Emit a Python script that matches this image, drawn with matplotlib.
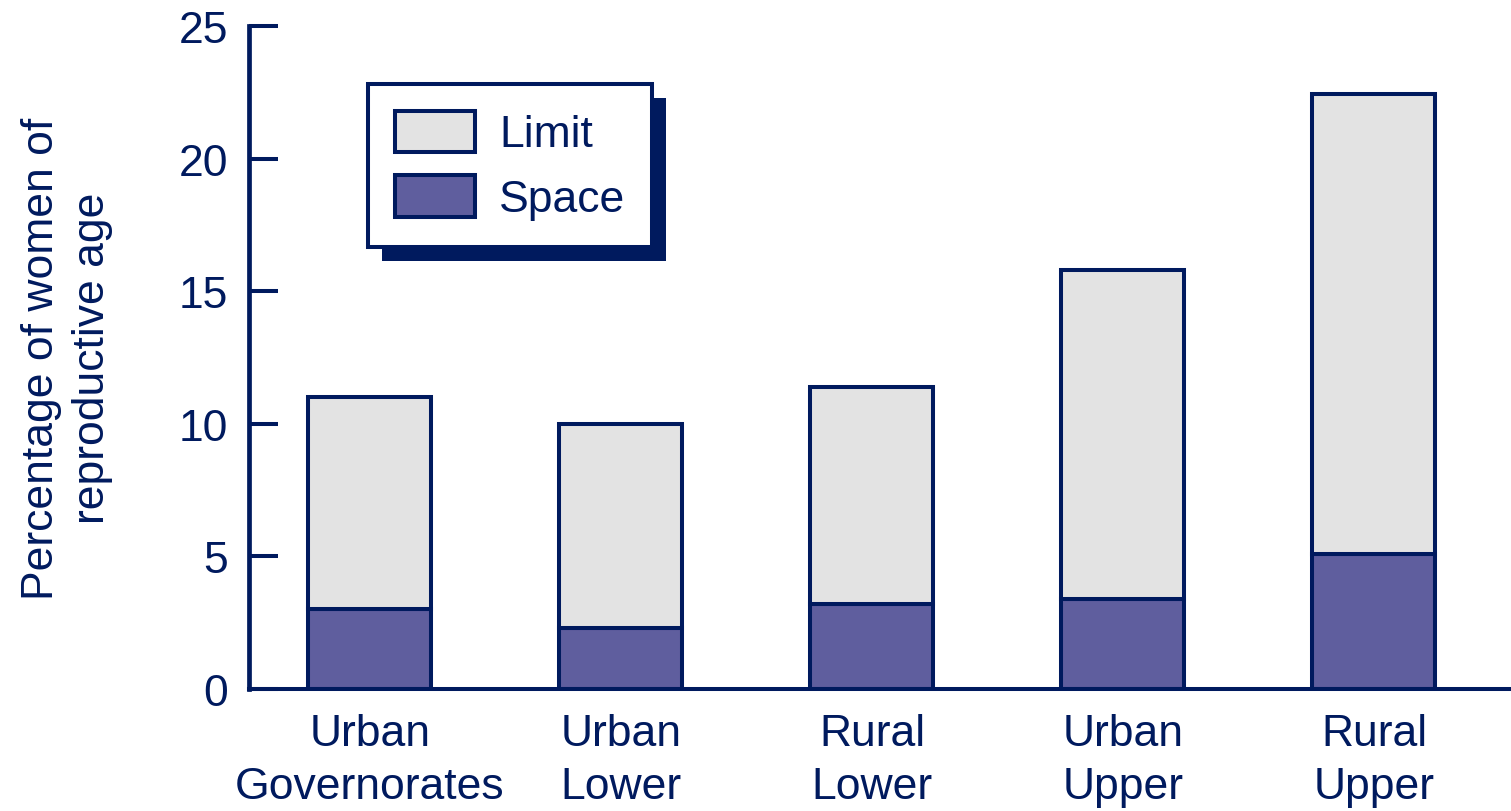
import matplotlib.pyplot as plt
from matplotlib.patches import Rectangle

categories = ["Urban\nGovernorates", "Urban\nLower", "Rural\nLower", "Urban\nUpper", "Rural\nUpper"]
space = [3.0, 2.3, 3.2, 3.4, 5.1]
limit = [8.0, 7.7, 8.2, 12.4, 17.35]
yticks = [0, 5, 10, 15, 20, 25]

NAVY = "#001a5e"
PURPLE = "#5f5e9e"
LIGHT = "#e3e3e3"

plt.rcParams["font.family"] = ["Liberation Sans", "DejaVu Sans"]
plt.rcParams["text.color"] = NAVY

fig = plt.figure(figsize=(15.11, 8.12), dpi=100)
ax = fig.add_axes([249 / 1511, 1 - 690 / 812, 1 - 249 / 1511, (690 - 27) / 812])

x = list(range(len(categories)))
ax.bar(x, space, width=0.49, color=PURPLE, edgecolor=NAVY, linewidth=2.9, label="Space", zorder=2)
ax.bar(x, limit, width=0.49, bottom=space, color=LIGHT, edgecolor=NAVY, linewidth=2.9, label="Limit", zorder=2)

ax.set_xlim(-0.482, 4.546)
ax.set_ylim(0, 25)
ax.set_yticks(yticks)
ax.set_xticks(x)
ax.set_xticklabels(categories, fontsize=32, color=NAVY, linespacing=1.4)
ax.tick_params(axis="y", direction="in", length=21, width=2.9, colors=NAVY, labelsize=32, pad=15)
ax.tick_params(axis="x", length=0, pad=17)

for side in ["top", "right"]:
    ax.spines[side].set_visible(False)
ax.spines["left"].set_color(NAVY)
ax.spines["left"].set_linewidth(3.4)
ax.spines["bottom"].set_color(NAVY)
ax.spines["bottom"].set_linewidth(2.9)

ax.set_ylabel("Percentage of women of\nreproductive age", fontsize=32, color=NAVY, linespacing=1.3)
ax.yaxis.set_label_coords(-0.108, 0.5)

handles, labels = ax.get_legend_handles_labels()
leg = ax.legend(handles[::-1], labels[::-1], loc="upper left",
                bbox_to_anchor=((368 - 249) / 1262, (690 - 85) / 663),
                fontsize=32, frameon=True, fancybox=False, framealpha=1,
                edgecolor=NAVY, facecolor="white", borderpad=0.6,
                handlelength=1.8, handleheight=1.05, handletextpad=0.55,
                labelspacing=0.45, borderaxespad=0)
leg.get_frame().set_linewidth(2.9)
for t in leg.get_texts():
    t.set_color(NAVY)

fig.canvas.draw()
bb = leg.get_window_extent()
shadow = Rectangle((bb.x0 + 14, bb.y0 - 14), bb.width, bb.height,
                   transform=None, facecolor=NAVY, edgecolor="none", zorder=4)
ax.add_artist(shadow)
leg.set_zorder(5)

fig.savefig("out.png", dpi=100)
